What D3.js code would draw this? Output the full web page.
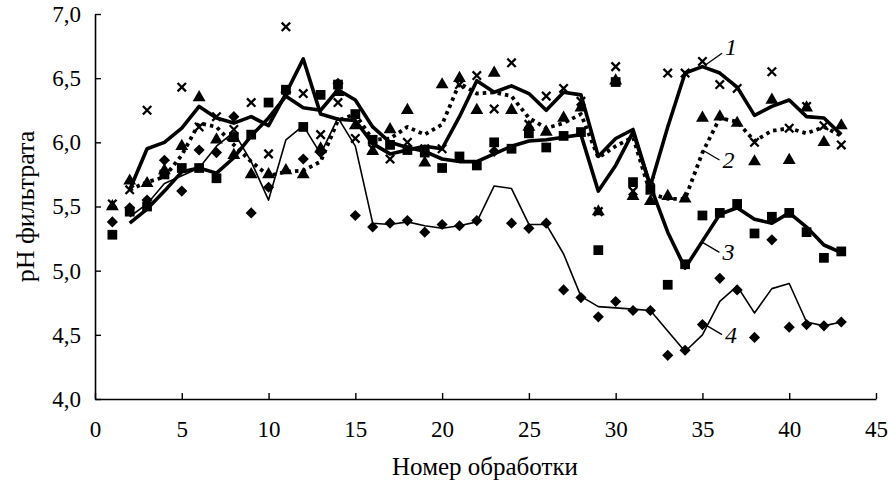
<!DOCTYPE html>
<html>
<head>
<meta charset="utf-8">
<script src="https://cdn.jsdelivr.net/npm/d3@7"></script>
<style>
  body { margin: 0; background: #fff; }
  svg { display: block; }
  text { font-family: "Liberation Serif", "Times New Roman", serif; fill: #000; }
</style>
</head>
<body>
<svg id="chart" width="888" height="482"></svg>
<script>
// treatment numbers (x)
const runs = d3.range(1, 44)
const trendRuns = d3.range(2, 44)

// marker values, pH of filtrate
const crosses = [5.52, 5.63, 6.25, 5.75, 6.43, 6.12, 6.2, 6.1, 6.31, 5.91,
  6.9, 6.38, 6.06, 6.31, 6.03, 5.95, 5.87, 6.0, 5.95, 5.95,
  6.45, 6.52, 6.26, 6.62, 6.14, 6.36, 6.42, 6.32, 5.46, 6.59,
  5.62, 5.7, 6.54, 6.54, 6.63, 6.45, 6.42, 6.0, 6.55, 6.11,
  6.28, 6.13, 5.98]
const triangles = [5.5, 5.7, 5.68, 5.78, 5.97, 6.35, 6.02, 5.9, 5.75, 5.75,
  5.78, 5.75, 5.95, 6.39, 6.13, 5.93, 6.1, 6.25, 5.84, 6.45,
  6.5, 6.25, 6.54, 6.25, 6.12, 6.08, 6.19, 6.27, 5.46, 6.48,
  5.58, 5.54, 5.58, 5.56, 6.19, 6.2, 6.15, 5.85, 6.33, 5.86,
  6.27, 6.0, 6.13]
const squares = [5.28, 5.46, 5.5, 5.75, 5.8, 5.8, 5.72, 6.04, 6.06, 6.31,
  6.41, 6.12, 6.37, 6.45, 6.22, 6.02, 5.98, 5.94, 5.92, 5.8,
  5.89, 5.82, 6.0, 5.95, 6.07, 5.96, 6.05, 6.08, 5.16, 6.47,
  5.69, 5.63, 4.89, 5.05, 5.43, 5.45, 5.52, 5.29, 5.42, 5.45,
  5.3, 5.1, 5.15]
const diamonds = [5.38, 5.49, 5.55, 5.86, 5.62, 5.94, 5.92, 6.2, 5.45, 5.65,
  6.39, 5.87, 5.92, 6.46, 5.43, 5.34, 5.37, 5.39, 5.3, 5.36,
  5.35, 5.39, 5.93, 5.37, 5.33, 5.37, 4.85, 4.79, 4.64, 4.76,
  4.69, 4.69, 4.34, 4.38, 4.58, 4.94, 4.85, 4.48, 5.24, 4.56,
  4.58, 4.57, 4.6]

// trend lines, read from x = 2 to 43
const trend1 = [5.63, 5.95, 6.0, 6.11, 6.28, 6.19, 6.15, 6.2, 6.13, 6.38,
  6.65, 6.22, 6.18, 6.17, 5.99, 5.91, 5.94, 5.97, 5.95, 6.2,
  6.48, 6.39, 6.44, 6.38, 6.25, 6.39, 6.37, 5.89, 6.03, 6.1,
  5.66, 6.12, 6.54, 6.59, 6.54, 6.43, 6.21, 6.28, 6.33, 6.2,
  6.19, 6.06]
const trend2 = [5.63, 5.69, 5.73, 5.9, 6.15, 6.12, 5.98, 5.85, 5.74, 5.77,
  5.78, 5.85, 6.17, 6.22, 6.02, 6.03, 6.12, 6.06, 6.14, 6.46,
  6.38, 6.39, 6.36, 6.19, 6.11, 6.15, 6.22, 5.88, 5.97, 6.04,
  5.6, 5.56, 5.56, 5.92, 6.19, 6.16, 6.01, 6.09, 6.11, 6.07,
  6.12, 6.05]
const trend3 = [5.37, 5.48, 5.62, 5.77, 5.8, 5.76, 5.88, 6.05, 6.19, 6.36,
  6.27, 6.25, 6.41, 6.33, 6.12, 6.0, 5.96, 5.93, 5.87, 5.85,
  5.85, 5.91, 5.97, 6.01, 6.02, 6.04, 6.06, 5.62, 5.82, 6.08,
  5.66, 5.3, 5.02, 5.23, 5.44, 5.49, 5.4, 5.37, 5.45, 5.34,
  5.2, 5.14]
const trend4 = [5.42, 5.52, 5.68, 5.74, 5.8, 5.97, 6.08, 5.85, 5.55, 6.02,
  6.13, 5.91, 6.19, 5.97, 5.37, 5.36, 5.38, 5.35, 5.33, 5.35,
  5.38, 5.66, 5.64, 5.36, 5.36, 5.13, 4.8, 4.72, 4.71, 4.7,
  4.69, 4.53, 4.37, 4.5, 4.76, 4.88, 4.67, 4.86, 4.9, 4.6,
  4.57, 4.6]

const xTicks = d3.range(0, 46, 5)
const yTicks = [4.0, 4.5, 5.0, 5.5, 6.0, 6.5, 7.0]
// curve labels: name, point on curve [x, pH]
const curveLabels = [
  { name: '1', at: [35.15, 6.6] },
  { name: '2', at: [35.0, 5.94] },
  { name: '3', at: [35.0, 5.22] },
  { name: '4', at: [35.15, 4.58] },
]

const svg = d3.select('#chart')
const x = d3.scaleLinear().domain([0, 45]).range([95, 876])
const y = d3.scaleLinear().domain([4, 7]).range([399, 14])
const comma = d3.formatLocale({ decimal: ',', thousands: ' ', grouping: [3], currency: ['', ''] }).format('.1f')

const xAxis = svg.append('g')
  .attr('transform', `translate(0,${y(4)})`)
  .call(d3.axisBottom(x).tickValues(xTicks).tickFormat(d3.format('d'))
    .tickSizeInner(-6).tickSizeOuter(0).tickPadding(22))
const yAxis = svg.append('g')
  .attr('transform', `translate(${x(0)},0)`)
  .call(d3.axisLeft(y).tickValues(yTicks).tickFormat(comma)
    .tickSizeInner(-6).tickSizeOuter(0).tickPadding(14))

for (const axis of [xAxis, yAxis]) {
  axis.select('.domain').attr('stroke', '#000').attr('stroke-width', 1.6)
  axis.selectAll('.tick line').attr('stroke', '#000').attr('stroke-width', 1.4)
  axis.selectAll('.tick text')
    .style('font-family', '"Liberation Serif", "Times New Roman", serif')
    .style('font-size', '23px').attr('fill', '#000')
}

svg.append('text')
  .attr('x', 485).attr('y', 475)
  .attr('text-anchor', 'middle').style('font-size', '25px')
  .text('Номер обработки')
svg.append('text')
  .attr('transform', `translate(34,${(y(4) + y(7)) / 2}) rotate(-90)`)
  .attr('text-anchor', 'middle').style('font-size', '26px')
  .text('pH фильтрата')

const line = d3.line().x(d => x(d[0])).y(d => y(d[1]))
const trends = [
  { values: trend4, width: 1.6, dash: null },
  { values: trend3, width: 3.6, dash: null },
  { values: trend2, width: 3.8, dash: '3.5,4' },
  { values: trend1, width: 3.6, dash: null },
]
svg.append('g').selectAll('path')
  .data(trends)
  .join('path')
  .attr('fill', 'none')
  .attr('stroke', '#000')
  .attr('stroke-width', d => d.width)
  .attr('stroke-dasharray', d => d.dash)
  .attr('stroke-linejoin', 'round')
  .attr('d', d => line(trendRuns.map((r, i) => [r, d.values[i]])))

// markers
const cross = 'M-4.2,-4.2L4.2,4.2M-4.2,4.2L4.2,-4.2'
const markers = [
  { values: crosses, path: cross, stroke: true },
  { values: triangles, path: d3.symbol(d3.symbolTriangle, 72)(), stroke: false },
  { values: squares, path: d3.symbol(d3.symbolSquare, 95)(), stroke: false },
  { values: diamonds, path: d3.symbol(d3.symbolSquare, 62)(), stroke: false, rotate: 45 },
]
for (const m of markers) {
  svg.append('g').selectAll('path')
    .data(runs.map((r, i) => [r, m.values[i]]))
    .join('path')
    .attr('transform', d => `translate(${x(d[0])},${y(d[1])})` + (m.rotate ? ` rotate(${m.rotate})` : ''))
    .attr('d', m.path)
    .attr('fill', m.stroke ? 'none' : '#000')
    .attr('stroke', m.stroke ? '#000' : 'none')
    .attr('stroke-width', m.stroke ? 2.3 : 0)
}

// curve number labels with leader lines
const lab = svg.append('g').selectAll('g').data(curveLabels).join('g')
  .attr('transform', d => `translate(${x(d.at[0])},${y(d.at[1])})`)
lab.append('line')
  .attr('x1', 0).attr('y1', 0).attr('x2', 17).attr('y2', d => d.name === '1' ? -12 : 10)
  .attr('stroke', '#000').attr('stroke-width', 1.3)
lab.append('text')
  .attr('x', 20).attr('y', d => d.name === '1' ? -10 : 18)
  .style('font-size', '24px').style('font-style', 'italic')
  .text(d => d.name)
</script>
</body>
</html>
